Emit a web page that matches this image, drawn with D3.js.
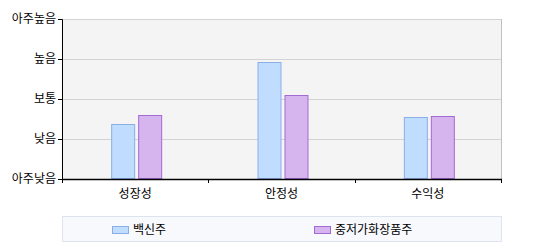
<!DOCTYPE html>
<html>
<head>
<meta charset="utf-8">
<script src="https://cdn.jsdelivr.net/npm/d3@7"></script>
<style>
body { margin: 0; background: #fff; }
text { font-family: "Noto Sans CJK KR", sans-serif; font-size: 12px; fill: #000; }
</style>
</head>
<body>
<div id="chart"></div>
<script>
var categories = ["성장성", "안정성", "수익성"];
var seriesNames = ["백신주", "중저가화장품주"];
var vaccine = [1.37, 2.92, 1.54];
var cosmetics = [1.59, 2.09, 1.57];
var levelLabels = ["아주낮음", "낮음", "보통", "높음", "아주높음"];

var fills = ["#c0dcfe", "#d6b4ee"],
    strokes = ["#8aaee8", "#a46ad4"];

var margin = {top: 19, left: 62},
    width = 439,
    height = 160;

var svg = d3.select("#chart")
    .append("svg")
    .attr("width", 544)
    .attr("height", 250);

var g = svg.append("g")
    .attr("transform", "translate(" + margin.left + "," + margin.top + ")");

var x = d3.scaleBand()
    .domain(categories)
    .range([0, width]);

var y = d3.scaleLinear()
    .domain([0, levelLabels.length - 1])
    .range([height, 0]);

// plot background
g.append("rect")
    .attr("width", width)
    .attr("height", height)
    .attr("fill", "#f4f4f4");

// grid lines
g.selectAll(".grid")
    .data(d3.range(1, levelLabels.length))
    .enter().append("line")
    .attr("x1", 0)
    .attr("x2", width)
    .attr("y1", d => Math.round(y(d)) + 0.5)
    .attr("y2", d => Math.round(y(d)) + 0.5)
    .attr("stroke", "#d3d3d3");

// right border
g.append("line")
    .attr("x1", width + 0.5)
    .attr("x2", width + 0.5)
    .attr("y1", 0)
    .attr("y2", height)
    .attr("stroke", "#c0c0c0");

// bars
var data = categories.map((c, i) => ({cat: c, values: [vaccine[i], cosmetics[i]]}));
var barW = 24;

var groups = g.selectAll(".cat")
    .data(data)
    .enter().append("g")
    .attr("transform", d => "translate(" + (x(d.cat) + x.bandwidth() / 2) + ",0)");

groups.selectAll("rect")
    .data(d => d.values)
    .enter().append("rect")
    .attr("x", (v, i) => i == 0 ? -barW + 0.5 : 3.5)
    .attr("y", v => Math.round(y(v)) + 0.5)
    .attr("width", barW - 1)
    .attr("height", v => height - Math.round(y(v)) - 1)
    .attr("fill", (v, i) => fills[i])
    .attr("stroke", (v, i) => strokes[i]);

// y axis
var yAxis = d3.axisLeft(y)
    .tickValues(d3.range(levelLabels.length))
    .tickFormat(d => levelLabels[d])
    .tickSize(4)
    .tickPadding(2);

var ya = g.append("g").call(yAxis);
ya.select(".domain").attr("stroke", "#000");
ya.selectAll("text").style("font-size", "12px").attr("font-family", null);

// x axis
var xAxis = d3.axisBottom(x)
    .tickSize(0)
    .tickPadding(10);

var xa = g.append("g")
    .attr("transform", "translate(0," + height + ")")
    .call(xAxis);
xa.select(".domain").remove();
xa.selectAll("text").attr("font-family", null).style("font-size", "12px");

xa.append("line")
    .attr("x1", 0).attr("x2", width + 1)
    .attr("y1", 0.5).attr("y2", 0.5)
    .attr("stroke", "#000").attr("stroke-width", 1.5);

xa.selectAll(".sep")
    .data(d3.range(categories.length + 1))
    .enter().append("line")
    .attr("x1", i => Math.round(i * x.step()) + 0.5)
    .attr("x2", i => Math.round(i * x.step()) + 0.5)
    .attr("y1", 0).attr("y2", 4)
    .attr("stroke", "#000");

// legend
var legend = svg.append("g")
    .attr("transform", "translate(62,216)");

legend.append("rect")
    .attr("x", 0.5).attr("y", 0.5)
    .attr("width", width).attr("height", 25)
    .attr("fill", "#f7f9fd")
    .attr("stroke", "#dde4ee");

var items = legend.selectAll(".item")
    .data(seriesNames)
    .enter().append("g")
    .attr("transform", (d, i) => "translate(" + (50 + i * 202) + ",0)");

items.append("rect")
    .attr("x", 0.5).attr("y", 10.5)
    .attr("width", 16).attr("height", 7)
    .attr("fill", (d, i) => fills[i])
    .attr("stroke", (d, i) => strokes[i]);

items.append("text")
    .attr("x", 21)
    .attr("y", 18)
    .text(d => d);
</script>
</body>
</html>
